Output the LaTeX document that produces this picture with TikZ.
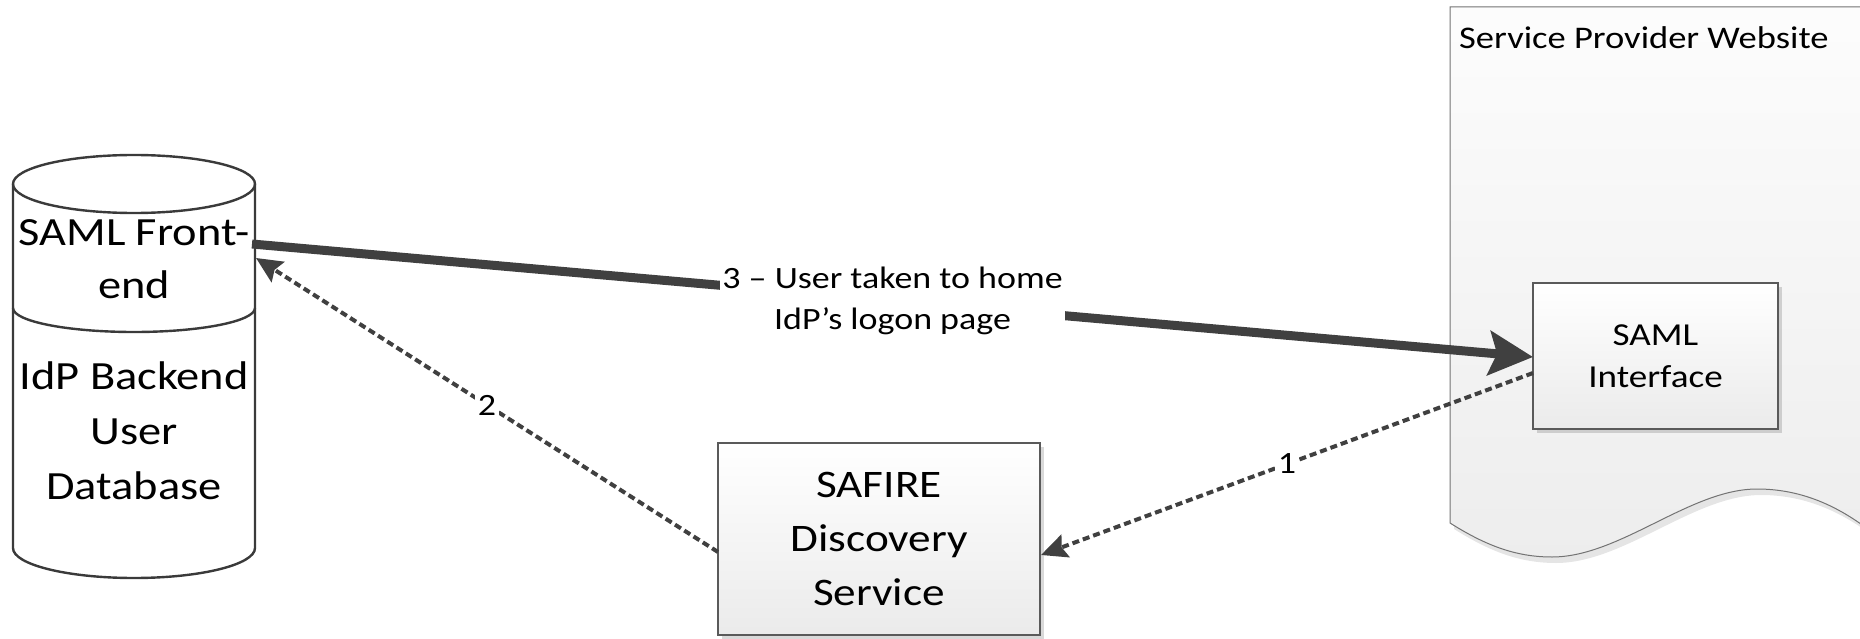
\documentclass[tikz,border=0pt]{standalone}
\usepackage{fontspec}
\setmainfont{Carlito}[FakeStretch=1.16]
\usetikzlibrary{arrows.meta,shadows}
\definecolor{edgec}{HTML}{404040}
\definecolor{boxline}{HTML}{5A5A5A}
\definecolor{cylline}{HTML}{3A3A3A}
\begin{document}
\begin{tikzpicture}[x=1pt,y=-1pt,
  box/.style={draw=boxline, line width=1.2pt, top color=white, bottom color=black!8,
    drop shadow={shadow xshift=4pt, shadow yshift=-4pt, fill=black, opacity=0.15},
    inner sep=0pt, align=center, text=black},
  cyltext/.style={align=center, inner sep=0pt},
  thickedge/.style={draw=edgec, line width=9pt, -{Stealth[length=44pt,width=44pt,inset=8pt]}},
  dashedge/.style={draw=edgec, line width=4pt, dash pattern=on 7pt off 4pt,
    -{Stealth[length=26pt,width=24pt,inset=4pt]}},
  lbl/.style={fill=white, font=\fontsize{31}{41}\selectfont, align=center, inner sep=2pt, text=black}]
\useasboundingbox (0,0) rectangle (1860,639);

% Service provider website document shape
\fill[black, opacity=0.10] (1454,12) -- (1454,529)
  .. controls (1489,551) and (1519,563) .. (1556,563)
  .. controls (1624,563) and (1694,495) .. (1761,495)
  .. controls (1804,495) and (1839,511) .. (1869,533) -- (1869,12) -- cycle;
\path[draw=black!55, line width=1pt, top color=black!1, bottom color=black!7]
  (1450,7) -- (1450,523)
  .. controls (1485,545) and (1515,557) .. (1552,557)
  .. controls (1620,557) and (1690,489) .. (1757,489)
  .. controls (1800,489) and (1835,505) .. (1865,527) -- (1865,7) -- cycle;
\node[anchor=base west, font=\fontsize{31.5}{38}\selectfont, inner sep=0pt] (spw) at (1459,49) {Service Provider Website};

% Cylinder
\path[fill=white] (13,184) -- (13,548)
  arc[start angle=180, end angle=360, x radius=121pt, y radius=30pt] -- (255,184) -- cycle;
\draw[cylline, line width=2.4pt] (13,184) -- (13,548)
  arc[start angle=180, end angle=360, x radius=121pt, y radius=30pt] -- (255,184);
\draw[cylline, line width=2.4pt] (134,184) ellipse[x radius=121pt, y radius=29pt];
\draw[cylline, line width=2.4pt] (13,308)
  arc[start angle=180, end angle=360, x radius=121pt, y radius=24pt];
\node[cyltext, font=\fontsize{40}{53}\selectfont] (fe) at (134,259) {SAML Front-\\end};
\node[cyltext, font=\fontsize{40}{55}\selectfont] (be) at (134,431) {IdP Backend\\User\\Database};

% Boxes
\node[box, minimum width=245pt, minimum height=146pt, font=\fontsize{32}{42}\selectfont] (saml) at (1655.5,356) {SAML\\Interface};
\node[box, minimum width=322pt, minimum height=192pt, font=\fontsize{39}{54}\selectfont] (safire) at (879,539) {SAFIRE\\Discovery\\Service};

% Connection points
\coordinate (feout) at (252,244);
\coordinate (fein) at (256,258);
\coordinate (samlin) at (1533,357);
\coordinate (samlout) at (1533,373);
\coordinate (safirein) at (1041,555);
\coordinate (safireout) at (718,552);

% Edges
\draw[thickedge] (feout) -- node[lbl] (l3) {3 – User taken to home\\IdP’s logon page} (samlin);
\draw[dashedge] (samlout) -- node[lbl, inner sep=3pt] (l1) {1} (safirein);
\draw[dashedge] (safireout) -- node[lbl, inner sep=3pt] (l2) {2} (fein);
\end{tikzpicture}
\end{document}
